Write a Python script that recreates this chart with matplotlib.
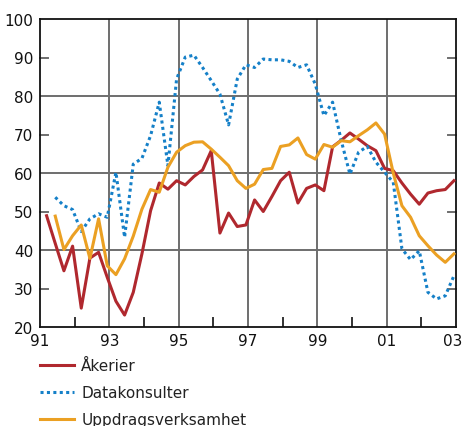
import matplotlib
matplotlib.use("Agg")
import matplotlib.pyplot as plt
from matplotlib.lines import Line2D
import matplotlib.transforms as mtransforms
import numpy as np

# Quarterly observations, first quarter ~1991.19
start = 1991.19
akerier = [48.9, 41.7, 34.6, 41.0, 24.9, 37.9, 39.4, 32.9, 26.7, 23.1, 29.0, 39.0,
           50.2, 57.4, 55.8, 58.0, 56.9, 59.1, 60.8, 65.8, 44.4, 49.6, 46.1, 46.5,
           53.0, 50.0, 53.9, 58.0, 60.2, 52.2, 56.0, 56.9, 55.4, 66.8, 68.5, 70.4,
           68.8, 67.1, 65.8, 61.2, 60.6, 57.4, 54.5, 51.9, 54.8, 55.4, 55.7, 58.0]
datakonsulter = [None, 53.7, 51.5, 50.5, 44.8, 48.1, 49.4, 48.5, 60.2, 43.3, 62.3, 63.8,
                 69.7, 78.4, 61.9, 84.4, 90.1, 90.6, 87.4, 84.0, 80.5, 72.5, 84.4, 88.1,
                 87.4, 89.6, 89.4, 89.4, 89.0, 87.4, 88.1, 83.1, 74.9, 78.4, 68.4, 59.7,
                 65.4, 66.9, 62.8, 60.2, 57.6, 40.3, 37.5, 39.8, 29.0, 27.3, 28.1, 33.3]
uppdrag = [None, 48.8, 40.1, 43.7, 46.5, 37.8, 48.1, 35.9, 33.6, 37.7, 43.6, 50.6,
           55.7, 55.0, 61.5, 65.4, 67.1, 68.0, 68.1, 66.2, 64.1, 61.9, 58.0, 56.0,
           57.1, 60.9, 61.2, 66.9, 67.3, 69.1, 64.8, 63.6, 67.4, 66.7, 68.4, 68.1,
           69.7, 71.2, 73.0, 70.1, 60.0, 51.5, 48.5, 43.7, 41.1, 38.7, 36.8, 39.0]
labels = ["Åkerier", "Datakonsulter", "Uppdragsverksamhet"]
xtick_years = [1991, 1993, 1995, 1997, 1999, 2001, 2003]
xtick_labels = ["91", "93", "95", "97", "99", "01", "03"]
yticks = [20, 30, 40, 50, 60, 70, 80, 90, 100]

red = "#b0282e"
blue = "#1580c8"
orange = "#eba023"

t = start + 0.25 * np.arange(len(akerier))
def arr(v):
    return np.array([np.nan if x is None else x for x in v], dtype=float)

fig = plt.figure(figsize=(4.63, 4.27), dpi=100)
ax = fig.add_axes([40/463, 1-328/427, 416/463, 308/427])
ax.set_xlim(1991, 2003)
ax.set_ylim(20, 100)

# grid
for yv in [40, 60, 80]:
    ax.axhline(yv, color="#6e6e6e", lw=1.4, zorder=1)
for xv in [1993, 1995, 1997, 1999, 2001]:
    ax.axvline(xv, color="#6e6e6e", lw=1.4, zorder=1)

lw = 2.2
ax.plot(t, arr(akerier), color=red, lw=lw, zorder=3)
ax.plot(t, arr(datakonsulter), color=blue, lw=lw, ls=(0, (1, 1.1)), zorder=3)
ax.plot(t, arr(uppdrag), color=orange, lw=lw, zorder=3)

ax.set_yticks(yticks)
ax.set_yticklabels([str(y) for y in yticks])
ax.set_xticks(xtick_years)
ax.set_xticklabels(xtick_labels)
ax.tick_params(axis="both", length=0, labelsize=11, colors="#111111")
ax.tick_params(axis="y", pad=5)
ax.tick_params(axis="x", pad=4)
# nudge last x label so it stays inside the figure
last = ax.get_xticklabels()[-1]
last.set_transform(last.get_transform() + mtransforms.ScaledTranslation(-3/100, 0, fig.dpi_scale_trans))

# inner short ticks
for yv in [30, 50, 70, 90]:
    ax.plot([1991, 1991.23], [yv, yv], color="#6e6e6e", lw=1.4, zorder=2, clip_on=False)
    ax.plot([2002.77, 2003], [yv, yv], color="#6e6e6e", lw=1.4, zorder=2, clip_on=False)
for xv in [1992, 1994, 1996, 1998, 2000, 2002]:
    ax.plot([xv, xv], [20, 22.4], color="#333333", lw=1.4, zorder=2)

for s in ax.spines.values():
    s.set_color("#111111")
    s.set_linewidth(1.3)

handles = [Line2D([], [], color=red, lw=lw),
           Line2D([], [], color=blue, lw=lw, ls=(0, (1, 1.1))),
           Line2D([], [], color=orange, lw=lw)]
fig.legend(handles, labels, loc="upper left", bbox_to_anchor=(40/463, 1-359/427),
           frameon=False, fontsize=11, handlelength=2.2, handletextpad=0.5,
           labelspacing=0.8, borderaxespad=0, borderpad=0, labelcolor="#222222")

fig.savefig("out.png", dpi=100)
